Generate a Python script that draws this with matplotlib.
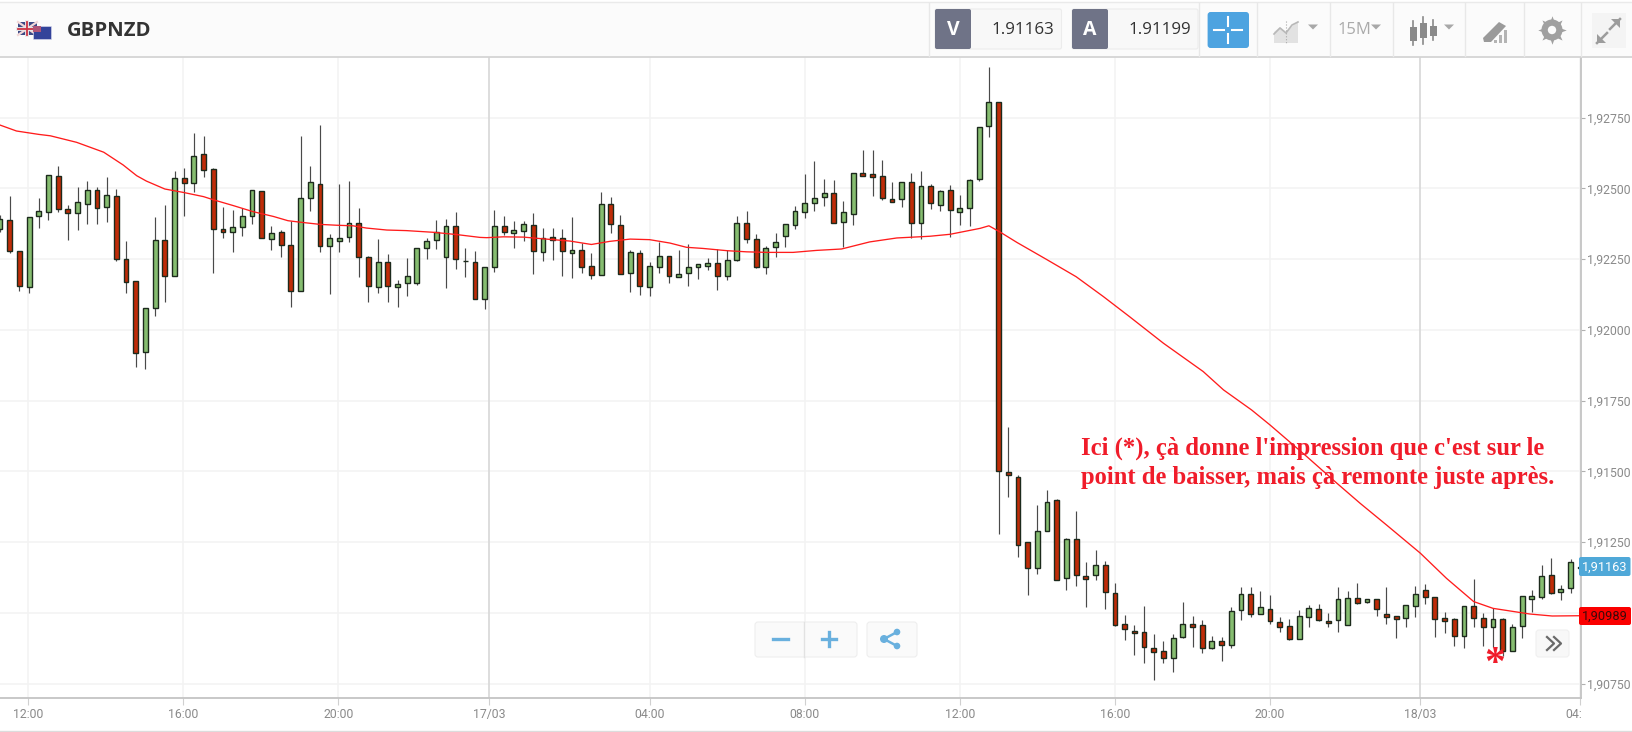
import numpy as np
import matplotlib
matplotlib.use("Agg")
import matplotlib.pyplot as plt
from matplotlib.patches import FancyBboxPatch, Rectangle, Circle, Polygon
from matplotlib.transforms import Bbox, TransformedBbox, IdentityTransform

# ---- data: prices expressed in 1e-5 above 1.9 -------------------------------
BASE = 1.9
SCALE = 1e-5
direction = ("GRRGGGRRGG" "RGRRRGGRGR" "GRRRGGGRGR" "RGGRGGGRRG" "RGGGGGGRGR"
             "GGRGGRGRRG" "RRGRRGRGGR" "GGGGRGGRRG" "GGGGGGRGGR" "RRRGRGRGRG"
             "GGGRRRRGGR" "GRRGRRRRRR" "RGGRRGRGGR" "GRRRGGRRGG" "RGRRRGGRRR"
             "RGRRGRGGGG" "RGGG")
high = [2406,2474,2280,2400,2465,2547,2580,2441,2505,2525,
        2505,2542,2497,2314,2173,2076,2398,2441,2560,2573,
        2697,2685,2573,2433,2423,2432,2494,2491,2366,2353,
        2386,2685,2580,2724,2338,2517,2525,2430,2261,2322,
        2267,2175,2255,2291,2326,2387,2391,2418,2288,2279,
        2221,2423,2401,2386,2386,2414,2361,2361,2358,2398,
        2306,2271,2486,2470,2405,2281,2281,2239,2312,2260,
        2282,2302,2233,2255,2286,2281,2401,2421,2338,2296,
        2341,2373,2437,2550,2596,2533,2529,2457,2554,2637,
        2637,2602,2522,2524,2553,2560,2516,2496,2512,2478,
        2532,2717,2930,2804,1658,1487,1249,1380,1435,1404,
        1263,1360,1180,1221,1184,1106,994,957,1025,925,
        902,925,1037,990,974,918,914,1021,1090,1093,
        1077,1062,987,978,1010,1028,1030,998,1090,1079,
        1107,1049,1049,1090,989,1029,1094,1102,1057,1002,
        981,1024,1119,998,1016,981,961,1060,1081,1169,
        1194,1097,1192,1190]
body_top = [2392,2388,2280,2400,2420,2547,2543,2427,2452,2494,
            2494,2476,2474,2252,2173,2076,2317,2317,2536,2536,
            2615,2622,2567,2357,2364,2404,2494,2491,2344,2347,
            2299,2467,2523,2514,2324,2324,2377,2379,2256,2240,
            2240,2161,2189,2288,2315,2347,2367,2367,2245,2240,
            2221,2367,2367,2352,2375,2371,2326,2327,2324,2281,
            2284,2225,2444,2444,2371,2276,2272,2225,2260,2260,
            2196,2221,2232,2235,2235,2248,2379,2379,2320,2288,
            2312,2373,2419,2447,2467,2484,2484,2415,2554,2554,
            2550,2543,2463,2523,2522,2510,2510,2491,2494,2431,
            2531,2717,2804,2804,1497,1481,1249,1291,1393,1398,
            1262,1262,1131,1170,1170,1071,959,936,931,876,
            864,911,959,959,956,899,899,1008,1067,1067,
            1020,1015,969,953,988,1016,1015,973,1048,1051,
            1051,1048,1048,996,989,1028,1067,1080,1055,981,
            977,1023,1023,981,977,980,951,1060,1059,1130,
            1134,1083,1179,1163]
body_bot = [2357,2279,2156,2153,2401,2418,2426,2414,2414,2446,
            2430,2434,2252,2168,1917,1921,2076,2192,2192,2520,
            2518,2566,2355,2347,2347,2362,2403,2326,2322,2299,
            2136,2136,2466,2295,2295,2315,2327,2256,2156,2153,
            2156,2153,2165,2167,2288,2319,2259,2249,2242,2108,
            2108,2223,2347,2342,2351,2280,2275,2319,2280,2271,
            2223,2195,2194,2374,2199,2200,2156,2153,2223,2192,
            2188,2200,2223,2227,2192,2192,2248,2322,2222,2222,
            2292,2331,2371,2418,2450,2470,2379,2382,2411,2545,
            2540,2466,2453,2463,2379,2379,2447,2443,2423,2418,
            2430,2533,2722,1501,1487,1241,1157,1157,1289,1116,
            1122,1134,1121,1134,1075,958,943,928,879,863,
            839,839,915,950,875,875,886,886,1010,995,
            995,971,950,908,908,987,975,963,975,958,
            1034,1038,1014,987,978,982,1026,1055,980,970,
            918,918,982,950,950,867,867,955,1049,1057,
            1069,1074,1087,1160]
low = [2347,2273,2137,2129,2359,2387,2415,2317,2352,2375,
       2375,2380,2245,2129,1870,1863,2049,2100,2192,2403,
       2488,2542,2200,2326,2276,2331,2374,2324,2282,2259,
       2081,2136,2421,2276,2128,2276,2312,2188,2100,2132,
       2100,2081,2121,2159,2251,2287,2149,2216,2187,2108,
       2073,2203,2335,2288,2315,2196,2243,2247,2192,2185,
       2200,2181,2194,2344,2199,2135,2124,2121,2200,2167,
       2186,2156,2180,2213,2140,2176,2243,2308,2218,2196,
       2259,2294,2358,2394,2421,2438,2377,2294,2371,2543,
       2474,2458,2452,2434,2326,2320,2426,2421,2327,2371,
       2367,2526,2681,1278,1410,1199,1063,1139,1289,1116,
       1082,1095,1022,1116,1015,955,904,851,824,763,
       824,791,912,881,859,872,831,876,974,987,
       995,959,931,904,908,950,973,950,931,958,
       1033,1036,990,962,912,950,987,1030,915,930,
       883,876,950,883,881,848,865,911,1003,1050,
       1067,1046,1069,1150]

ma_index = [0,1.7,4.0,5.2,7.9,10.7,12.7,14.1,15.1,17.0,18.9,21.0,22.0,24.1,26.1,28.2,29.7,
            30.9,33.0,34.7,36.4,37.8,39.9,41.9,44.7,47.1,49.5,50.2,51.9,54.0,56.0,58.8,
            61.0,62.9,65.0,67.0,69.1,70.8,72.5,75.0,77.0,79.1,81.8,84.2,86.8,89.7,92.5,
            95.9,98.0,101.1,102.0,103.1,104.9,107.9,111.0,113.8,116.5,120.0,124.1,126.2,
            129.1,131.0,134.8,137.9,140.3,143.0,146.5,149.2,152.0,154.0,157.8,160.1,163.0]
ma_value = [2724,2703,2691,2686,2663,2628,2583,2545,2526,2498,2486,2471,2460,2439,2418,2401,2386,
            2381,2373,2370,2368,2360,2353,2351,2345,2337,2327,2326,2329,2328,2322,2314,
            2302,2313,2321,2319,2307,2292,2288,2280,2276,2274,2274,2281,2286,2311,2325,
            2331,2338,2359,2368,2347,2309,2250,2188,2118,2047,1953,1853,1788,
            1717,1664,1552,1458,1387,1311,1211,1122,1040,1016,996,989,990]

y_ticks = [1.9075,1.91,1.9125,1.915,1.9175,1.92,1.9225,1.925,1.9275]
# the 1,91000 label is hidden behind the red moving-average tag in the reference
y_labels = ["1,90750","","1,91250","1,91500","1,91750","1,92000","1,92250","1,92500","1,92750"]
x_ticks = [2.92,18.9,34.9,50.45,67.0,83.0,99.0,115.0,131.0,146.5,163.0]
x_labels = ["12:00","16:00","20:00","17/03","04:00","08:00","12:00","16:00","20:00","18/03","04:00"]
day_labels = {"17/03","18/03"}
bid_price = "1.91163"
ask_price = "1.91199"
last_label = "1,91163"
ma_label = "1,90989"
last_value = 1163
ma_last = 989
symbol = "GBPNZD"
note = "Ici (*), çà donne l'impression que c'est sur le\npoint de baisser, mais çà remonte juste après."

if len({len(high),len(body_top),len(body_bot),len(low),len(direction)}) != 1:
    raise SystemExit(f"length {len(high)} {len(body_top)} {len(body_bot)} {len(low)} {len(direction)}")

W, H = 1633, 732
plt.rcParams['font.family'] = ['Roboto', 'DejaVu Sans']
fig = plt.figure(figsize=(W/100, H/100), dpi=100, facecolor="white")

# chart area
L, R, T, B = 0, 1580.6, 57, 698
ax = fig.add_axes([L/W, 1-B/H, (R-L)/W, (B-T)/H])
ax.set_xlim(0, 163.03)
y_at = lambda p: BASE + (2750-(p-117.7)*3.534)*SCALE
ax.set_ylim(y_at(B), y_at(T))
for s in ("top","left"):
    ax.spines[s].set_visible(False)
for s in ("bottom","right"):
    ax.spines[s].set_color("#c4c4c4"); ax.spines[s].set_linewidth(1.3)
ax.yaxis.tick_right()
ax.set_yticks(y_ticks, y_labels)
ax.set_xticks(x_ticks, x_labels)
ax.tick_params(axis='y', length=3, width=0.8, color="#b0b0b0", labelcolor="#8a8a8a", labelsize=8.8, pad=1.5)
ax.tick_params(axis='x', length=5, width=0.8, color="#d0d0d0", labelcolor="#8a8a8a", labelsize=8.8, pad=2)
for yt in y_ticks:
    ax.axhline(yt, color="#f3f3f3", lw=1.1, zorder=1)
for xt, xl in zip(x_ticks, x_labels):
    ax.axvline(xt, color="#dadada" if xl in day_labels else "#f3f3f3", lw=1.3 if xl in day_labels else 1.1, zorder=1)
clip_bb = TransformedBbox(Bbox([[0,0],[R,H]]), IdentityTransform())
lab = ax.get_xticklabels()[-1]
lab.set_clip_box(clip_bb); lab.set_clip_on(True)

idx = np.arange(len(high))
hi = BASE + np.array(high)*SCALE
lo = BASE + np.array(low)*SCALE
tp = BASE + np.array(body_top)*SCALE
bt = BASE + np.array(body_bot)*SCALE
cols = ["#86bd70" if d == "G" else "#bf2c08" for d in direction]
ax.vlines(idx, lo, hi, color="#4a4a4a", lw=0.85, zorder=3)
ax.bar(idx, tp-bt, bottom=bt, width=0.5, color=cols, edgecolor="#1c2a1c", linewidth=1.0, zorder=4)
ax.plot(ma_index, BASE+np.array(ma_value)*SCALE, color="#ff1c1c", lw=0.95, zorder=5)

# overlay in pixel space for the app chrome
ui = fig.add_axes([0,0,1,1], zorder=10)
ui.set_xlim(0,W); ui.set_ylim(H,0); ui.axis("off"); ui.patch.set_alpha(0)

def box(x0,y0,x1,y1,fc,ec="none",r=2,lw=0.8,z=2):
    ui.add_patch(FancyBboxPatch((x0+r,y0+r),x1-x0-2*r,y1-y0-2*r,boxstyle=f"round,pad={r},rounding_size={r}",fc=fc,ec=ec,lw=lw,zorder=z))

# header
ui.add_patch(Rectangle((0,2),W,54,fc="#fbfbfb",ec="none",zorder=1))
ui.plot([0,W],[1.5,1.5],color="#eaeaea",lw=1,zorder=2)
ui.plot([0,W],[56.5,56.5],color="#d4d4d4",lw=1.3,zorder=2)
ui.plot([0,W],[730.7,730.7],color="#dcdcdc",lw=1,zorder=2)
for sx in (929.5,1199.4,1257,1330,1393,1465.5,1523.6,1581):
    ui.plot([sx,sx],[3,56],color="#e8e8e8",lw=1,zorder=2)

# flags
ui.add_patch(Rectangle((18,22),19,13,fc="#3c4a86",ec="none",zorder=3))
for a,b in (((18,22),(37,35)),((18,35),(37,22))):
    ui.plot(*zip(a,b),color="#f2d8d8",lw=1.6,zorder=3)
ui.plot([27.5,27.5],[22,35],color="#e8e8e8",lw=2.8,zorder=3); ui.plot([18,37],[28.5,28.5],color="#e8e8e8",lw=2.8,zorder=3)
ui.plot([27.5,27.5],[22,35],color="#cc3344",lw=1.3,zorder=3); ui.plot([18,37],[28.5,28.5],color="#cc3344",lw=1.3,zorder=3)
ui.add_patch(Rectangle((33,26),18,13,fc="#33439a",ec="#dde",lw=0.4,zorder=4))
ui.add_patch(Rectangle((33,26),8,6,fc="#b05577",ec="none",zorder=4))
ui.text(66.5,30.5,symbol,fontsize=14.6,fontweight="bold",family="Open Sans",color="#333333",va="center",ha="left",zorder=4)

# V / A fields
for x0,xm,x1,letter,val,cx in ((935,971,1061.5,"V",bid_price,1023),(1072,1108,1198,"A",ask_price,1159.5)):
    box(x0,9,x1,49,"#f8f8f8","#ececec",r=2)
    box(x0,9,xm,49,"#6f7387",r=2,z=3)
    ui.text((x0+xm)/2,30,letter,color="white",fontsize=14,fontweight="bold",family="Open Sans",ha="center",va="center",zorder=4)
    ui.text(cx,30,val,color="#333333",fontsize=12.2,family="Open Sans",ha="center",va="center",zorder=4)
# crosshair button
box(1207.6,12,1249,48,"#4da3e0",r=3)
cx,cy = 1228,30
for a,b in (((cx-14,cy),(cx-4,cy)),((cx+4,cy),(cx+14,cy)),((cx,cy-13),(cx,cy-4)),((cx,cy+4),(cx,cy+13))):
    ui.plot(*zip(a,b),color="white",lw=1.5,zorder=4)
ic = "#b8b8b8"
# line-type icon
ui.add_patch(Polygon([(1274,43),(1274,32),(1280,27),(1286,32),(1298,21),(1298,43)],fc="#e2e2e2",ec="none",zorder=3))
ui.plot([1274,1280,1286,1292,1298],[34,28,33,25,22],color=ic,lw=1.2,zorder=4)
ui.plot([1286,1286],[21,44],color="#aaaaaa",lw=0.8,ls=":",zorder=4)
for cxx,cyy in ((1313,27),(1376,27),(1449,27)):
    ui.add_patch(Polygon([(cxx-5,cyy-2.5),(cxx+5,cyy-2.5),(cxx,cyy+2.5)],fc="#a8a8a8",ec="none",zorder=4))
ui.text(1354,30.5,"15M",color="#aaaaaa",fontsize=12,family="Open Sans",ha="center",va="center",zorder=4)
# candle icon
for xx,y0,y1,w0,w1 in ((1413.5,27,41,21,45),(1423.5,23,38,17,44),(1433.5,26,36,20,40)):
    ui.plot([xx,xx],[w0,w1],color="#8a8a8a",lw=1.2,zorder=3)
    ui.add_patch(Rectangle((xx-3.5,y0),7,y1-y0,fc="#8a8a8a",ec="none",zorder=4))
# pen icon
ui.add_patch(Polygon([(1483,38),(1499,22),(1506,26),(1491,42),(1484,42)],fc="#9a9a9a",ec="none",zorder=3))
for bx,by in ((1494,40),(1499,35),(1504,30)):
    ui.add_patch(Rectangle((bx,by),3.5,43-by,fc="#b4b4b4",ec="none",zorder=4))
# gear
ui.scatter([1552],[30],s=420,marker=(8,1,0),color="#a0a0a0",zorder=3,linewidths=0)
ui.add_patch(Circle((1552,30),10.5,fc="#a0a0a0",ec="none",zorder=3))
ui.add_patch(Circle((1552,30),4.2,fc="#fbfbfb",ec="none",zorder=4))
# expand
ui.add_patch(Rectangle((1592,13),34,35,fc="#f4f4f4",ec="none",zorder=2))
for tipx,tipy,dx,dy in ((1620,19,-1,1),(1597,43,1,-1)):
    ui.plot([tipx,tipx+dx*10],[tipy,tipy+dy*10],color="#9c9c9c",lw=1.8,zorder=3)
    ui.add_patch(Polygon([(tipx,tipy),(tipx+dx*9,tipy),(tipx,tipy+dy*9)],fc="#9c9c9c",ec="none",zorder=3))

# zoom / share buttons
box(755,622,857,657,"#fafafa","#eeeeee",r=3)
ui.plot([804,804],[622,657],color="#e2e2e2",lw=1,zorder=3)
bl = "#69b0de"
ui.plot([773,788],[639,639],color=bl,lw=2.4,zorder=4)
ui.plot([822,836],[639,639],color=bl,lw=2.4,zorder=4); ui.plot([829,829],[632,646],color=bl,lw=2.4,zorder=4)
box(867,622,917,657,"#fafafa","#eeeeee",r=3)
ui.plot([897,884,897],[632,639,646],color=bl,lw=1.8,zorder=4)
for px,py,rr in ((897,632,3.3),(884,639,4),(897,646,3.3)):
    ui.add_patch(Circle((px,py),rr,fc=bl,ec="none",zorder=4))
# scroll button
box(1536,630,1569,657,"#f8f8f8","#f0f0f0",r=3)
for ox in (1547,1554):
    ui.plot([ox,ox+7,ox],[637,643.5,650],color="#6a6a6a",lw=1.6,zorder=4)

# price tags
ty = lambda v: 117.7+(2750-v)/3.534
box(1579,557,1630.5,576,"#4fa8d8",r=2)
ui.text(1605,ty(last_value),last_label,color="white",fontsize=9.2,ha="center",va="center",zorder=4)
box(1579,607,1631,625,"#fa0000",r=2)
ui.text(1605,ty(ma_last)+.5,ma_label,color="#3a0a0a",fontsize=9.2,ha="center",va="center",zorder=4)

# annotations
ui.text(1081.5,463,note,color="#f01c2a",fontsize=17.7,fontweight="bold",family="Liberation Serif",
        ha="left",va="center",linespacing=1.33,zorder=6)
ui.text(1495,665,"*",color="#f01c2a",fontsize=30,fontweight="bold",family="Liberation Serif",
        ha="center",va="center",zorder=6)

fig.savefig("out.png",dpi=100)
